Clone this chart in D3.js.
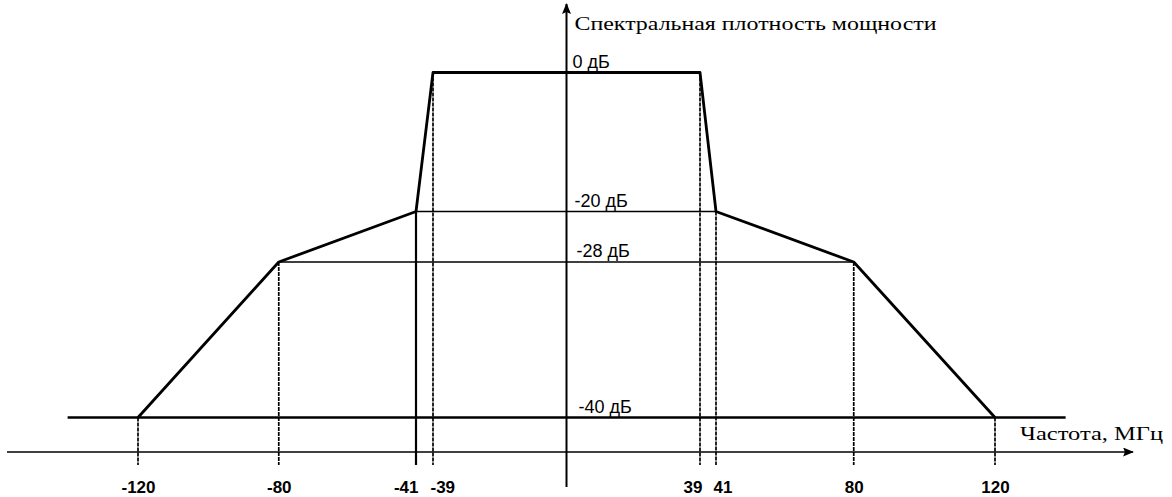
<!DOCTYPE html>
<html>
	<head>
		<meta charset="utf-8">
		<title>Спектральная маска</title>
		<script type="text/javascript" src="https://cdn.jsdelivr.net/npm/d3@7"></script>
		<style type="text/css">
			body{
				margin: 0;
				background: #fff;
			}
			.tick text{
				font-family: "Liberation Sans", Arial, sans-serif;
				font-weight: bold;
				font-size: 17px;
				fill: #000;
			}
			.lvl{
				font-family: "Liberation Sans", Arial, sans-serif;
				font-size: 18px;
				fill: #000;
			}
			.cap{
				font-family: "Liberation Serif", "Times New Roman", serif;
				font-size: 19px;
				fill: #000;
			}
		</style>
	</head>
	<body>
	<script type="text/javascript">
		const width = 1172, height = 497;

		// mask corner points, MHz / dB
		let maskFreq  = [-120, -80, -41, -39, 39, 41, 80, 120];
		let maskLevel = [-40, -28, -20, 0, 0, -20, -28, -40];

		// horizontal reference levels and their labels
		let levels      = [0, -20, -28, -40];
		let levelLabels = ["0 дБ", "-20 дБ", "-28 дБ", "-40 дБ"];
		let levelFrom   = [-39, -41, -80, -140];
		let levelTo     = [39, 41, 80, 140];

		// x tick labels
		let tickFreq   = [-120, -80, -41, -39, 39, 41, 80, 120];
		let tickLabels = ["-120", "-80", "-41", "-39", "39", "41", "80", "120"];

		let yTitle = "Спектральная плотность мощности";
		let xTitle = "Частота, МГц";

		// drawing is schematic: piecewise scales, the narrow gaps are widened
		let xScale = d3.scaleLinear()
					.domain([-120, -41, -39, 39, 41, 120])
					.range([138, 416, 433, 700, 716, 995]);

		let yScale = d3.scaleLinear()
					.domain([0, -20, -28, -40])
					.range([72.5, 211.5, 262, 417.5]);

		const x0 = xScale(0);
		const axisY = 452;

		let svg = d3.select("body")
					.append("svg")
					.attr("width", width)
					.attr("height", height);

		let defs = svg.append("defs");
		defs.append("marker")
			.attr("id", "arr")
			.attr("viewBox", "0 0 12 10")
			.attr("refX", 11)
			.attr("refY", 5)
			.attr("markerWidth", 12)
			.attr("markerHeight", 9)
			.attr("markerUnits", "userSpaceOnUse")
			.attr("orient", "auto")
			.append("path")
			.attr("d", "M0,0 L12,5 L0,10 L2,5 Z")
			.attr("fill", "#000");

		// dotted verticals from each corner down past the axis
		svg.selectAll("line.drop")
			.data(maskFreq)
			.enter()
			.append("line")
			.attr("class", "drop")
			.attr("x1", function(d){ return xScale(d); })
			.attr("x2", function(d){ return xScale(d); })
			.attr("y1", function(d, i){ return yScale(maskLevel[i]); })
			.attr("y2", axisY + 13)
			.attr("stroke", "#000")
			.attr("stroke-width", function(d){ return d == -41 ? 2.2 : 1.7; })
			.attr("stroke-dasharray", function(d){ return d == -41 ? null : "4,1"; });

		// level lines
		svg.selectAll("line.lvl")
			.data(levels)
			.enter()
			.append("line")
			.attr("class", "lvlline")
			.attr("x1", function(d, i){ return xScale(levelFrom[i]); })
			.attr("x2", function(d, i){ return xScale(levelTo[i]); })
			.attr("y1", function(d){ return yScale(d); })
			.attr("y2", function(d){ return yScale(d); })
			.attr("stroke", "#000")
			.attr("stroke-width", function(d){ return d == -40 ? 2.6 : (d == 0 ? 2 : 1.6); });

		// mask outline
		let line = d3.line()
					.x(function(d){ return xScale(d[0]); })
					.y(function(d){ return yScale(d[1]); });

		svg.append("path")
			.datum(d3.zip(maskFreq, maskLevel))
			.attr("d", line)
			.attr("fill", "none")
			.attr("stroke", "#000")
			.attr("stroke-width", 2.8)
			.attr("stroke-linejoin", "round");

		// frequency axis with arrow
		svg.append("line")
			.attr("x1", 7)
			.attr("x2", 1133)
			.attr("y1", axisY)
			.attr("y2", axisY)
			.attr("stroke", "#000")
			.attr("stroke-width", 1.6)
			.attr("marker-end", "url(#arr)");

		// power axis with arrow
		svg.append("line")
			.attr("x1", x0)
			.attr("x2", x0)
			.attr("y1", 487)
			.attr("y2", 4)
			.attr("stroke", "#000")
			.attr("stroke-width", 2)
			.attr("marker-end", "url(#arr)");

		// tick labels
		let xAxis = d3.axisBottom()
					.scale(xScale)
					.tickValues(tickFreq)
					.tickSize(0)
					.tickPadding(29)
					.tickFormat(function(d, i){ return tickLabels[i]; });

		let gx = svg.append("g")
			.attr("transform", "translate(0," + axisY + ")")
			.call(xAxis);
		gx.select(".domain").remove();
		gx.selectAll(".tick text")
			.attr("text-anchor", function(d){
				if(d == -41 || d == 39) return "end";
				if(d == -39 || d == 41) return "start";
				return "middle";
			})
			.attr("dx", function(d){
				if(d == -41 || d == 39) return 2;
				if(d == -39 || d == 41) return -3;
				return 0;
			});

		// level labels
		svg.selectAll("text.lvl")
			.data(levels)
			.enter()
			.append("text")
			.attr("class", "lvl")
			.attr("x", function(d, i){ return x0 + 6 + i * 2; })
			.attr("y", function(d){ return yScale(d) - 5; })
			.text(function(d, i){ return levelLabels[i]; });

		// captions
		svg.append("text")
			.attr("class", "cap")
			.attr("x", x0 + 8)
			.attr("y", 30)
			.attr("textLength", 362)
			.attr("lengthAdjust", "spacingAndGlyphs")
			.text(yTitle);

		svg.append("text")
			.attr("class", "cap")
			.attr("x", 1020)
			.attr("y", 440)
			.attr("textLength", 143)
			.attr("lengthAdjust", "spacingAndGlyphs")
			.text(xTitle);
	</script>
	</body>
</html>
